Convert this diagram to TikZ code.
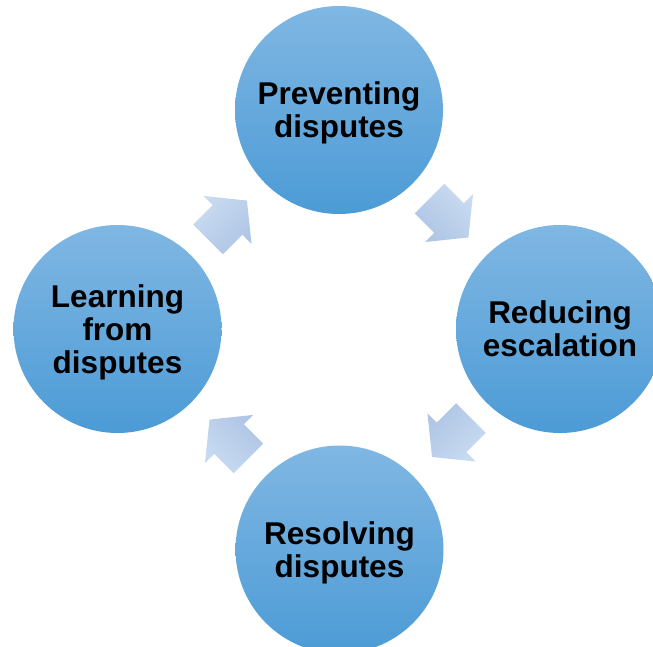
\documentclass[tikz,border=0pt]{standalone}
\usepackage{fontspec}
\setmainfont{Liberation Sans}
\begin{document}
\begin{tikzpicture}[x=1pt,y=-1pt,
  phase/.style={circle,inner sep=0pt,minimum size=208pt,
    top color=circTop,bottom color=circBot,text depth=0pt,
    font=\bfseries\fontsize{31.5}{33}\selectfont,align=center,text=black},
  blockarrow/.style={top color=arrLight,bottom color=arrDark}]
\definecolor{circTop}{HTML}{80B7E3}
\definecolor{circBot}{HTML}{4C9BD6}
\definecolor{arrLight}{HTML}{C9DBF1}
\definecolor{arrDark}{HTML}{AFC5E5}
\useasboundingbox (0,0) rectangle (653,647);
\clip (0,0) rectangle (653,647);
\node[phase] (prev) at (339,110) {Preventing\\disputes};
\node[phase] (red) at (560,329) {Reducing\\escalation};
\node[phase] (res) at (339.5,549.5) {Resolving\\disputes};
\node[phase] (learn) at (117.5,329) {Learning\\from\\disputes};
\coordinate (a1) at (227.5,220);
\coordinate (a2) at (449,218);
\coordinate (a3) at (451.5,437.5);
\coordinate (a4) at (229,439);
\foreach \c/\ang/\sh in {a1/45/45, a2/-45/-45, a3/-135/-135, a4/135/135}{
  \begin{scope}[shift={(\c)},rotate=\ang]
    \path[blockarrow,shading angle=\sh]
      (-27.5,-21) -- (0,-21) -- (0,-34) -- (27.5,0) -- (0,34) -- (0,21) -- (-27.5,21) -- cycle;
  \end{scope}
}
\end{tikzpicture}
\end{document}
